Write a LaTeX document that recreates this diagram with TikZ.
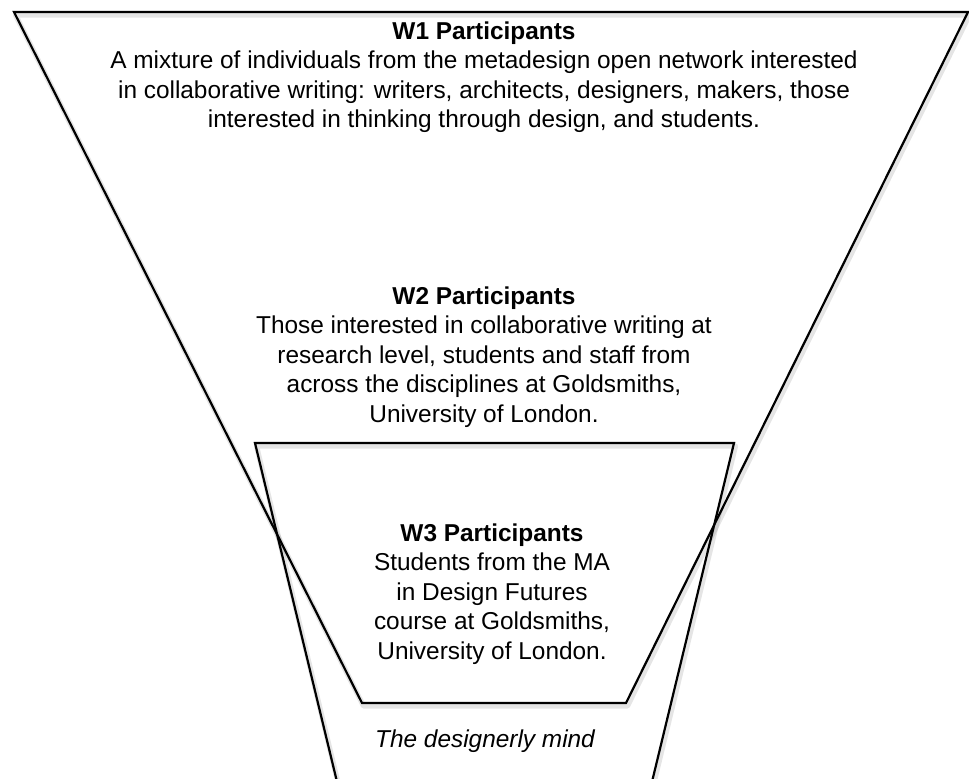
\documentclass[tikz,border=0pt]{standalone}
\usepackage{fontspec}
\setmainfont{Liberation Sans}
\begin{document}
\begin{tikzpicture}[x=0.5pt,y=-0.5pt,
  outline/.style={draw=black, line width=1.1pt, line join=miter},
  shade/.style={draw=black, line width=2.6pt, opacity=0.10, line join=round},
  txt/.style={align=center, inner sep=0pt, font=\fontsize{12.2pt}{14.8pt}\selectfont},
  mindtxt/.style={inner sep=0pt, font=\fontsize{12.2pt}{14.8pt}\selectfont\itshape}]
\useasboundingbox[fill=white] (0,0) rectangle (969,778);
\clip (0,0) rectangle (969,778);
% soft shadows
\draw[shade] ([shift={(1.5,3)}]14,12) -- ([shift={(1.5,3)}]968,12) -- ([shift={(1.5,3)}]626,703) -- ([shift={(1.5,3)}]362,703) -- cycle;
\draw[shade] ([shift={(1.5,3)}]339,790) -- ([shift={(1.5,3)}]255,443) -- ([shift={(1.5,3)}]734,443) -- ([shift={(1.5,3)}]650,790);
% funnel shapes
\coordinate (a1) at (14,12);
\coordinate (a2) at (968,12);
\coordinate (a3) at (626,703);
\coordinate (a4) at (362,703);
\draw[outline] (a1) -- (a2) -- (a3) -- (a4) -- cycle;
\coordinate (b1) at (339,790);
\coordinate (b2) at (255,443);
\coordinate (b3) at (734,443);
\coordinate (b4) at (650,790);
\draw[outline] (b1) -- (b2) -- (b3) -- (b4);
% texts
\node[txt, anchor=north] (w1) at (484,21) {\textbf{W1 Participants}\\A mixture of individuals from the metadesign open network interested\\in collaborative writing: writers, architects, designers, makers, those\\interested in thinking through design, and students.};
\node[txt, anchor=north] (w2) at (484,286) {\textbf{W2 Participants}\\Those interested in collaborative writing at\\research level, students and staff from\\across the disciplines at Goldsmiths,\\University of London.};
\node[txt, anchor=north] (w3) at (492,523) {\textbf{W3 Participants}\\Students from the MA\\in Design Futures\\course at Goldsmiths,\\University of London.};
\node[mindtxt, anchor=base] (mind) at (485,747) {The designerly mind};
\end{tikzpicture}
\end{document}
